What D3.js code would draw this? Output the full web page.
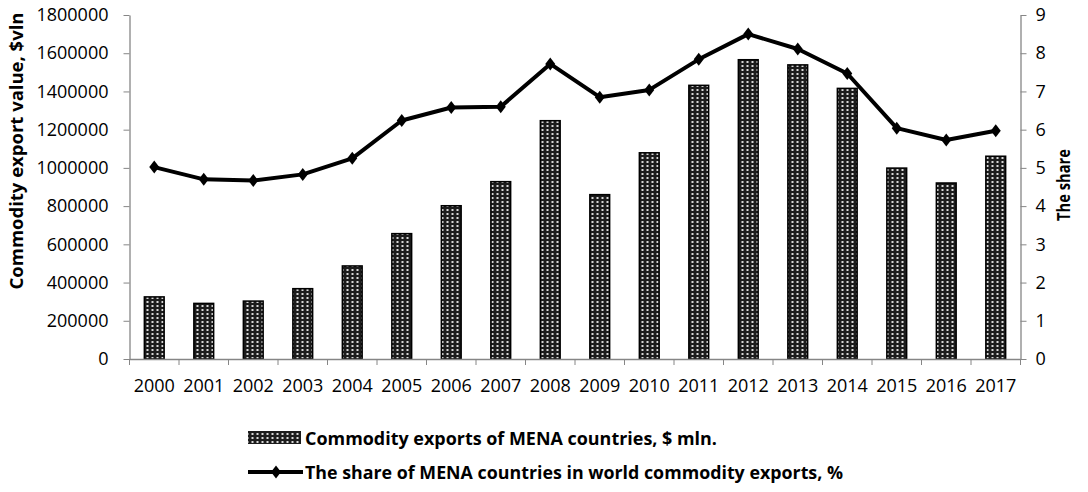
<!DOCTYPE html>
<html><head><meta charset="utf-8">
<script src="https://cdn.jsdelivr.net/npm/d3@7/dist/d3.min.js"></script>
<style>
html,body{margin:0;padding:0;background:#fff;}
svg{display:block;font-family:"Open Sans",sans-serif;}
</style></head>
<body><svg id="c" width="1088" height="492"></svg>
<script>
const years = ["2000","2001","2002","2003","2004","2005","2006","2007","2008","2009","2010","2011","2012","2013","2014","2015","2016","2017"];
const exportsValue = [325000,291000,303000,368000,487000,656000,802000,928000,1247000,860000,1079000,1432000,1566000,1539000,1416000,999000,921000,1061000];
const shareValue = [5.02,4.70,4.67,4.83,5.25,6.24,6.58,6.60,7.72,6.85,7.04,7.84,8.50,8.11,7.47,6.04,5.73,5.97];
const leftTicks = [0,200000,400000,600000,800000,1000000,1200000,1400000,1600000,1800000];
const rightTicks = [0,1,2,3,4,5,6,7,8,9];
const leftTitle = "Commodity export value, $vln";
const rightTitle = "The share";
const legendBar = "Commodity exports of MENA countries, $ mln.";
const legendLine = "The share of MENA countries in world commodity exports, %";

const svg = d3.select("#c");
const L = 129.5, R = 1020.5, T = 15, B = 359;
const axisColor = "#868686";

const defs = svg.append("defs");
const pat = defs.append("pattern").attr("id","dots").attr("patternUnits","userSpaceOnUse")
  .attr("width",5).attr("height",4);
pat.append("rect").attr("width",5).attr("height",4).attr("fill","#1c1c1c");
pat.append("rect").attr("x",1.5).attr("y",1).attr("width",2).attr("height",2).attr("fill","#d8d8d8");

const x = d3.scaleBand().domain(years).range([L,R]).paddingInner(0.6).paddingOuter(0.3);
const yL = d3.scaleLinear().domain([0,1800000]).range([B,T]);
const yR = d3.scaleLinear().domain([0,9]).range([B,T]);

// bars
svg.append("g").selectAll("rect").data(years).join("rect")
  .attr("x",d=>x(d)).attr("width",x.bandwidth())
  .attr("y",(d,i)=>yL(exportsValue[i])).attr("height",(d,i)=>B-yL(exportsValue[i]))
  .attr("fill","url(#dots)").attr("stroke","#000").attr("stroke-width",1.5);

// axes
const fontSize = "18px";
const gL = svg.append("g").attr("transform",`translate(${L},0)`)
  .call(d3.axisLeft(yL).tickValues(leftTicks).tickFormat(d3.format("d")).tickSize(6).tickSizeOuter(0).tickPadding(15));
const gR = svg.append("g").attr("transform",`translate(${R},0)`)
  .call(d3.axisRight(yR).tickValues(rightTicks).tickFormat(d3.format("d")).tickSize(6).tickSizeOuter(0).tickPadding(9));
const gX = svg.append("g").attr("transform",`translate(0,${B})`)
  .call(d3.axisBottom(x).tickSize(0).tickPadding(20));
// category boundary ticks
svg.append("g").selectAll("line").data(d3.range(years.length+1)).join("line")
  .attr("x1",i=>L+i*(R-L)/years.length).attr("x2",i=>L+i*(R-L)/years.length)
  .attr("y1",B).attr("y2",B+6).attr("stroke",axisColor).attr("stroke-width",1);
[gL,gR,gX].forEach(g=>{
  g.select(".domain").attr("stroke",axisColor).attr("stroke-width",1.3);
  g.selectAll(".tick line").attr("stroke",axisColor);
  g.selectAll(".tick text").attr("font-size",fontSize).attr("font-family","'Open Sans',sans-serif").attr("fill","#000");
});

// line
const line = d3.line().x((d,i)=>x(years[i])+x.bandwidth()/2).y(d=>yR(d));
svg.append("path").datum(shareValue).attr("d",line).attr("fill","none")
  .attr("stroke","#000").attr("stroke-width",4).attr("stroke-linejoin","round");
const diamond = "M0,-6.5L5,0L0,6.5L-5,0Z";
svg.append("g").selectAll("path").data(shareValue).join("path")
  .attr("transform",(d,i)=>`translate(${x(years[i])+x.bandwidth()/2},${yR(d)})`)
  .attr("d",diamond).attr("fill","#000");

// axis titles
svg.append("text").attr("transform","translate(23,151) rotate(-90)").attr("text-anchor","middle")
  .attr("font-size","17px").attr("font-weight","bold")
  .attr("textLength",277).attr("lengthAdjust","spacingAndGlyphs").text(leftTitle);
svg.append("text").attr("transform","translate(1070,185) rotate(-90)").attr("text-anchor","middle")
  .attr("font-size","17px").attr("font-weight","bold")
  .attr("textLength",72).attr("lengthAdjust","spacingAndGlyphs").text(rightTitle);

// legend
const lg = svg.append("g");
lg.append("rect").attr("x",248).attr("y",431).attr("width",53).attr("height",13).attr("fill","url(#dots)");
lg.append("text").attr("x",305).attr("y",444.5).attr("font-size","17px").attr("font-weight","bold")
  .attr("textLength",412).attr("lengthAdjust","spacingAndGlyphs").text(legendBar);
lg.append("line").attr("x1",248).attr("x2",303).attr("y1",472).attr("y2",472).attr("stroke","#000").attr("stroke-width",4);
lg.append("path").attr("transform","translate(276,472)").attr("d",diamond).attr("fill","#000");
lg.append("text").attr("x",305).attr("y",478.5).attr("font-size","17px").attr("font-weight","bold")
  .attr("textLength",538).attr("lengthAdjust","spacingAndGlyphs").text(legendLine);
</script></body></html>
